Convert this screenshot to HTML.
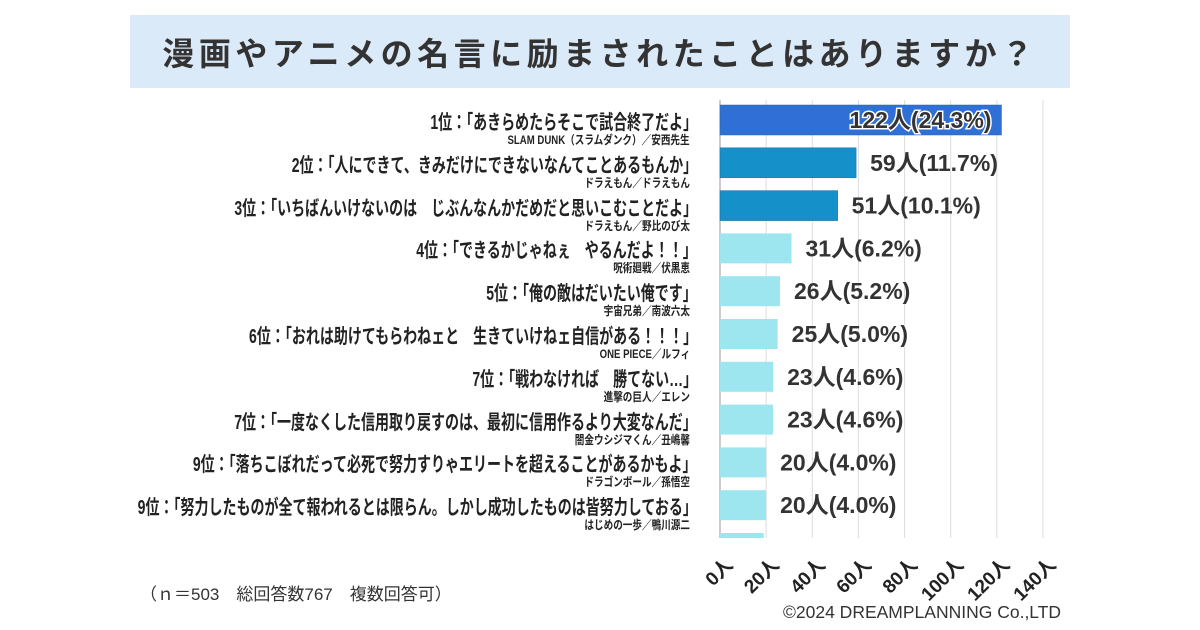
<!DOCTYPE html>
<html><head><meta charset="utf-8"><style>
body{margin:0;width:1200px;height:630px;background:#fff;font-family:"Liberation Sans","Noto Sans CJK JP",sans-serif;overflow:hidden;position:relative}
#title{position:absolute;left:130px;top:15px;width:940px;height:73px;background:#dbeaf8;display:flex;align-items:center;justify-content:center;font-size:32px;font-weight:bold;color:#333;letter-spacing:4.5px}
.lbl{position:absolute;right:503px;white-space:nowrap;transform:scaleX(0.7);transform-origin:right center;color:#222;font-weight:bold}
.q{font-size:20px}
.s{font-size:12px;right:510px;transform:scaleX(0.8)}
#note{position:absolute;left:140px;top:580px;font-size:17px;color:#333}
#copy{position:absolute;left:783px;top:602px;font-size:17.5px;color:#333}
</style></head><body>
<div id="title">漫画やアニメの名言に励まされたことはありますか？</div>
<div id="labels"></div>
<svg id="chart" width="1200" height="630" style="position:absolute;left:0;top:0"></svg>
<div id="note">（ｎ＝503　総回答数767　複数回答可）</div>
<div id="copy">©2024 DREAMPLANNING Co.,LTD</div>
<script>
const quotes=["1位：「あきらめたらそこで試合終了だよ」","2位：「人にできて、きみだけにできないなんてことあるもんか」","3位：「いちばんいけないのは　じぶんなんかだめだと思いこむことだよ」","4位：「できるかじゃねぇ　やるんだよ！！」","5位：「俺の敵はだいたい俺です」","6位：「おれは助けてもらわねェと　生きていけねェ自信がある！！！」","7位：「戦わなければ　勝てない…」","7位：「一度なくした信用取り戻すのは、最初に信用作るより大変なんだ」","9位：「落ちこぼれだって必死で努力すりゃエリートを超えることがあるかもよ」","9位：「努力したものが全て報われるとは限らん。しかし成功したものは皆努力しておる」"];
const sources=["SLAM DUNK（スラムダンク）／安西先生","ドラえもん／ドラえもん","ドラえもん／野比のび太","呪術廻戦／伏黒恵","宇宙兄弟／南波六太","ONE PIECE／ルフィ","進撃の巨人／エレン","闇金ウシジマくん／丑嶋馨","ドラゴンボール／孫悟空","はじめの一歩／鴨川源二"];
const values=[122,59,51,31,26,25,23,23,20,20];
const pcts=["24.3%","11.7%","10.1%","6.2%","5.2%","5.0%","4.6%","4.6%","4.0%","4.0%"];
const ticks=[0,20,40,60,80,100,120,140];
const NS="http://www.w3.org/2000/svg";
const svg=document.getElementById('chart');
const x=v=>720+v*(323/140);
const y=i=>105+i*42.8;
const bh=30;
function mk(t,a){const e=document.createElementNS(NS,t);for(const k in a)e.setAttribute(k,a[k]);svg.appendChild(e);return e;}
ticks.forEach(t=>{
 const g=mk('line',{x1:x(t),x2:x(t),y1:100,y2:538,stroke:t===0?'#999':'#ddd','stroke-width':1});
 
 
 const tx=mk('text',{x:0,y:0,'font-size':19,'font-weight':'bold',fill:'#222','text-anchor':'end',transform:`translate(${x(t)+14},${566}) rotate(-45)`});
 tx.textContent=t+'人';
 
 
});
const pb=mk('rect',{x:x(0),y:y(10),width:x(19)-x(0),height:538-y(10),fill:'#9ee6ef'});


const lab=document.getElementById('labels');
values.forEach((v,i)=>{
 const col=i===0?'#2f6fd6':(i<3?'#1590c8':'#9ee6ef');
 const r=mk('rect',{x:x(0),y:y(i),width:x(v)-x(0),height:bh,fill:col,stroke:i<3?'#1a6fa8':'none','stroke-width':0.5});
 
 
 const inside=i===0;
 const t=mk('text',{x:inside?x(v)-10:x(v)+14,y:y(i)+bh/2+8,'font-size':23,'font-weight':'bold',fill:'#333','text-anchor':inside?'end':'start'});
 if(inside){t.setAttribute('stroke','#fff');t.setAttribute('stroke-width','3');t.setAttribute('paint-order','stroke');}
 t.textContent=v+'人('+pcts[i]+')';
 
 
 const q=document.createElement('div');
 q.className='lbl q';q.style.top=(y(i)+1)+'px';q.textContent=quotes[i];
 
 
 lab.appendChild(q);
 const s=document.createElement('div');
 s.className='lbl s';s.style.top=(y(i)+26)+'px';s.textContent=sources[i];
 
 
 lab.appendChild(s);
});
</script>
</body></html>
